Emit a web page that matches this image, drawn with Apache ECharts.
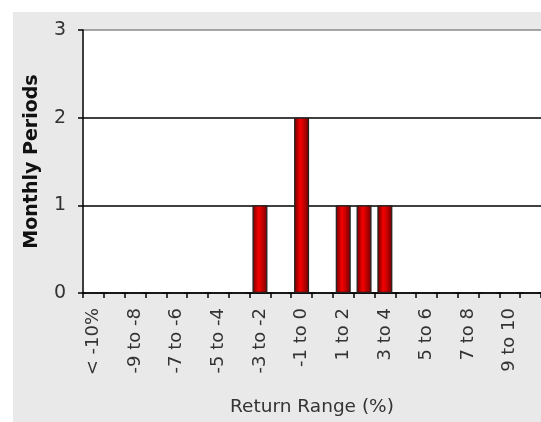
<!DOCTYPE html>
<html>
<head>
<meta charset="utf-8">
<script src="https://cdn.jsdelivr.net/npm/echarts@6/dist/echarts.min.js"></script>
<style>html,body{margin:0;padding:0;background:#fff;}#c{width:541px;height:422px;}</style>
</head>
<body>
<div id="c"></div>
<script>
const categories = ["< -10%","-10 to -9","-9 to -8","-8 to -7","-7 to -6","-6 to -5","-5 to -4","-4 to -3","-3 to -2","-2 to -1","-1 to 0","0 to 1","1 to 2","2 to 3","3 to 4","4 to 5","5 to 6","6 to 7","7 to 8","8 to 9","9 to 10","> 10%"];
const monthlyPeriods = [0,0,0,0,0,0,0,0,1,0,2,0,1,1,1,0,0,0,0,0,0,0];
const yTicks = [0,1,2,3];

const chart = echarts.init(document.getElementById('c'), null, {renderer:'canvas'});
const font = 'DejaVu Sans';
chart.setOption({
  animation:false,
  backgroundColor:'#ffffff',
  graphic:[{type:'rect', z:-100, shape:{x:13,y:12,width:528,height:410}, style:{fill:'#e9e9e9'}, silent:true}],
  grid:{left:83, top:30, width:459, height:267, show:true, backgroundColor:'#ffffff', borderWidth:0},
  xAxis:{
    type:'category', data:categories,
    name:'Return Range (%)', nameLocation:'middle', nameGap:105,
    nameTextStyle:{fontFamily:font, fontSize:18.5, color:'#333', verticalAlign:'top'},
    axisLine:{lineStyle:{color:'#000', width:1.5}},
    axisTick:{show:true, length:5, interval:0, lineStyle:{color:'#000', width:1.5}},
    axisLabel:{interval:1, rotate:90, margin:15, fontFamily:font, fontSize:18, color:'#333'},
    splitLine:{show:false}
  },
  yAxis:{
    type:'value', min:yTicks[0], max:yTicks[yTicks.length-1], interval:1,
    name:'Monthly Periods', nameLocation:'middle', nameGap:41, nameRotate:90,
    nameTextStyle:{fontFamily:font, fontSize:19, fontWeight:'bold', color:'#111'},
    axisLine:{show:true, lineStyle:{color:'#000', width:1.5}},
    axisTick:{show:true, length:5, lineStyle:{color:'#000', width:1.5}},
    axisLabel:{margin:17, fontFamily:font, fontSize:19, color:'#333'},
    splitLine:{show:true, lineStyle:{color:['#000','#000','#000','#8a8a8a'], width:1.5}}
  },
  series:[{
    type:'bar', data:monthlyPeriods, barWidth:15,
    itemStyle:{
      borderColor:'#222', borderWidth:1.2,
      color:new echarts.graphic.LinearGradient(0,0,1,0,[
        {offset:0,color:'#6a0000'},{offset:0.4,color:'#f40000'},{offset:0.6,color:'#d00000'},{offset:1,color:'#700000'}
      ])
    }
  }]
});
</script>
</body>
</html>
